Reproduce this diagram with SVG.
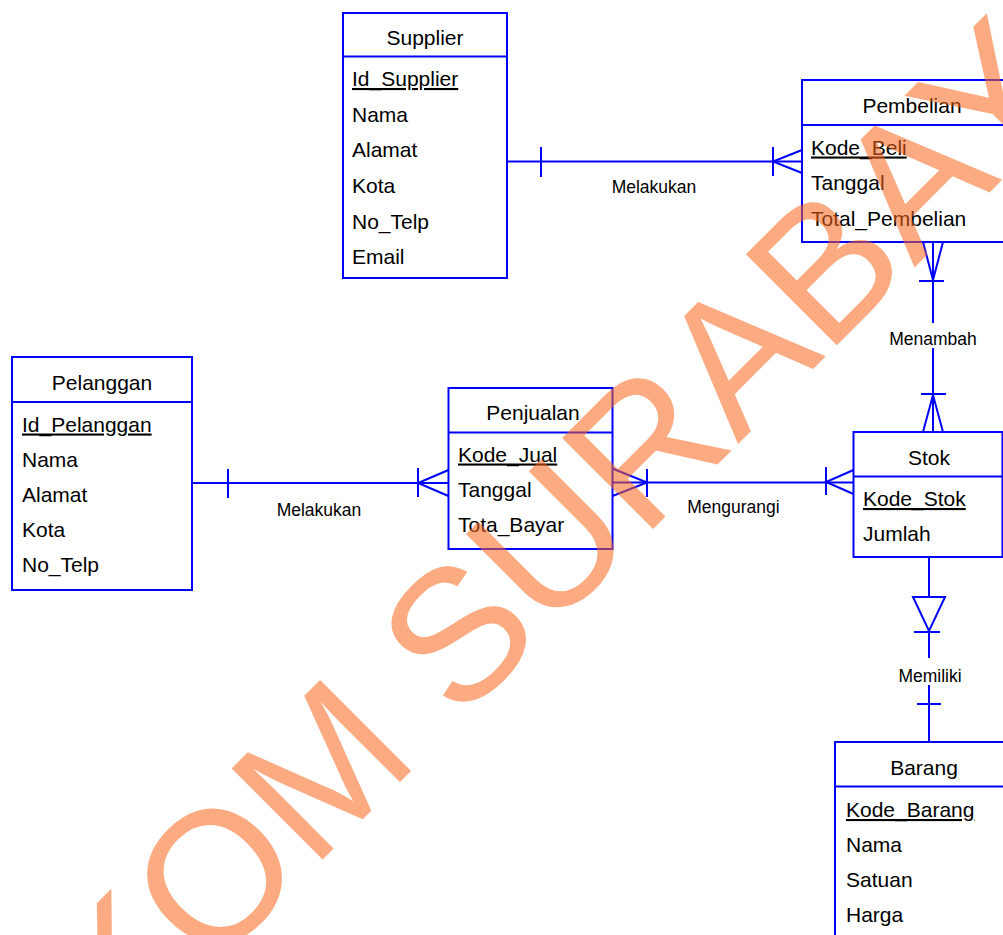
<svg xmlns="http://www.w3.org/2000/svg" width="1003" height="935" viewBox="0 0 1003 935">
<style>
.box{fill:#fff;stroke:#0000ff;stroke-width:2}
.ln{stroke:#0000ff;stroke-width:2;fill:none}
.t{font-family:"Liberation Sans",Arial,sans-serif;font-size:21px;fill:#000}
.title{text-anchor:middle}
.pk{text-decoration:underline}
.lbl{font-family:"Liberation Sans",Arial,sans-serif;font-size:17.5px;fill:#000;text-anchor:middle}
.wm{font-family:"Liberation Sans",Arial,sans-serif;font-size:187px;fill:#F8641A;fill-opacity:0.55}
</style>
<rect width="1003" height="935" fill="#fff"/>
<g id="connectors">
  <g id="c-supplier-pembelian">
    <line class="ln" x1="507" y1="161.5" x2="802" y2="161.5"/>
    <line class="ln" x1="541" y1="147" x2="541" y2="177"/>
    <line class="ln" x1="773" y1="147" x2="773" y2="176"/>
    <path class="ln" d="M802,150 L773,161.5 L802,173"/>
    <text class="lbl" x="654" y="192.5">Melakukan</text>
  </g>
  <g id="c-pelanggan-penjualan">
    <line class="ln" x1="192" y1="483" x2="448.5" y2="483"/>
    <line class="ln" x1="228" y1="469" x2="228" y2="498"/>
    <line class="ln" x1="418" y1="468" x2="418" y2="497"/>
    <path class="ln" d="M448.5,470 L418,483 L448.5,496"/>
    <text class="lbl" x="319" y="516">Melakukan</text>
  </g>
  <g id="c-penjualan-stok">
    <line class="ln" x1="612.5" y1="482.5" x2="853.5" y2="482.5"/>
    <line class="ln" x1="647" y1="469" x2="647" y2="497"/>
    <path class="ln" d="M612.5,468.5 L647,482.5 L612.5,496"/>
    <line class="ln" x1="826" y1="467" x2="826" y2="495"/>
    <path class="ln" d="M853.5,470 L826,482 L853.5,494"/>
    <text class="lbl" x="733.5" y="513">Mengurangi</text>
  </g>
  <g id="c-pembelian-stok">
    <line class="ln" x1="933" y1="242" x2="933" y2="323"/>
    <line class="ln" x1="933" y1="348" x2="933" y2="432"/>
    <line class="ln" x1="919" y1="281" x2="944" y2="281"/>
    <path class="ln" d="M923,242 L933,280 L943,242"/>
    <line class="ln" x1="921" y1="394" x2="946" y2="394"/>
    <path class="ln" d="M923,432 L933,395 L943,432"/>
    <text class="lbl" x="933" y="345">Menambah</text>
  </g>
  <g id="c-stok-barang">
    <line class="ln" x1="929" y1="557" x2="929" y2="597"/>
    <polygon class="ln" points="913,597 945,597 929,631"/>
    <line class="ln" x1="929" y1="631" x2="929" y2="658"/>
    <line class="ln" x1="929" y1="685" x2="929" y2="742"/>
    <line class="ln" x1="914" y1="632" x2="940" y2="632"/>
    <line class="ln" x1="917" y1="704" x2="941" y2="704"/>
    <text class="lbl" x="930" y="681.5">Memiliki</text>
  </g>
</g>
<g id="supplier">
  <rect class="box" x="343" y="13" width="164" height="265"/>
  <line class="ln" x1="343" y1="56.5" x2="507" y2="56.5"/>
  <text class="t title" x="425" y="45">Supplier</text>
  <text class="t pk" x="352" y="86">Id_Supplier</text>
  <text class="t" x="352" y="121.5">Nama</text>
  <text class="t" x="352" y="157">Alamat</text>
  <text class="t" x="352" y="193">Kota</text>
  <text class="t" x="352" y="228.5">No_Telp</text>
  <text class="t" x="352" y="264">Email</text>
</g>
<g id="pembelian">
  <rect class="box" x="802" y="80" width="220" height="162"/>
  <line class="ln" x1="802" y1="125" x2="1022" y2="125"/>
  <text class="t title" x="912" y="113">Pembelian</text>
  <text class="t pk" x="811" y="154.5">Kode_Beli</text>
  <text class="t" x="811" y="190">Tanggal</text>
  <text class="t" x="811" y="226">Total_Pembelian</text>
</g>
<g id="pelanggan">
  <rect class="box" x="12" y="357" width="180" height="233"/>
  <line class="ln" x1="12" y1="402" x2="192" y2="402"/>
  <text class="t title" x="102" y="390">Pelanggan</text>
  <text class="t pk" x="22" y="431.5">Id_Pelanggan</text>
  <text class="t" x="22" y="467">Nama</text>
  <text class="t" x="22" y="502">Alamat</text>
  <text class="t" x="22" y="537">Kota</text>
  <text class="t" x="22" y="572">No_Telp</text>
</g>
<g id="penjualan">
  <rect class="box" x="448.5" y="388" width="164" height="161"/>
  <line class="ln" x1="448.5" y1="432.5" x2="612.5" y2="432.5"/>
  <text class="t title" x="533" y="420">Penjualan</text>
  <text class="t pk" x="458" y="461.5">Kode_Jual</text>
  <text class="t" x="458" y="496.5">Tanggal</text>
  <text class="t" x="458" y="532">Tota_Bayar</text>
</g>
<g id="stok">
  <rect class="box" x="853.5" y="432" width="149" height="125"/>
  <line class="ln" x1="853.5" y1="476.5" x2="1002.5" y2="476.5"/>
  <text class="t title" x="929" y="465">Stok</text>
  <text class="t pk" x="863" y="506">Kode_Stok</text>
  <text class="t" x="863" y="541">Jumlah</text>
</g>
<g id="barang">
  <rect class="box" x="835" y="742" width="178" height="230"/>
  <line class="ln" x1="835" y1="786.5" x2="1013" y2="786.5"/>
  <text class="t title" x="924" y="775">Barang</text>
  <text class="t pk" x="846" y="817">Kode_Barang</text>
  <text class="t" x="846" y="852">Nama</text>
  <text class="t" x="846" y="887">Satuan</text>
  <text class="t" x="846" y="922">Harga</text>
</g>
<text class="wm" transform="translate(-85,1267) rotate(-45)">STIKOM SURABAYA</text>
</svg>
